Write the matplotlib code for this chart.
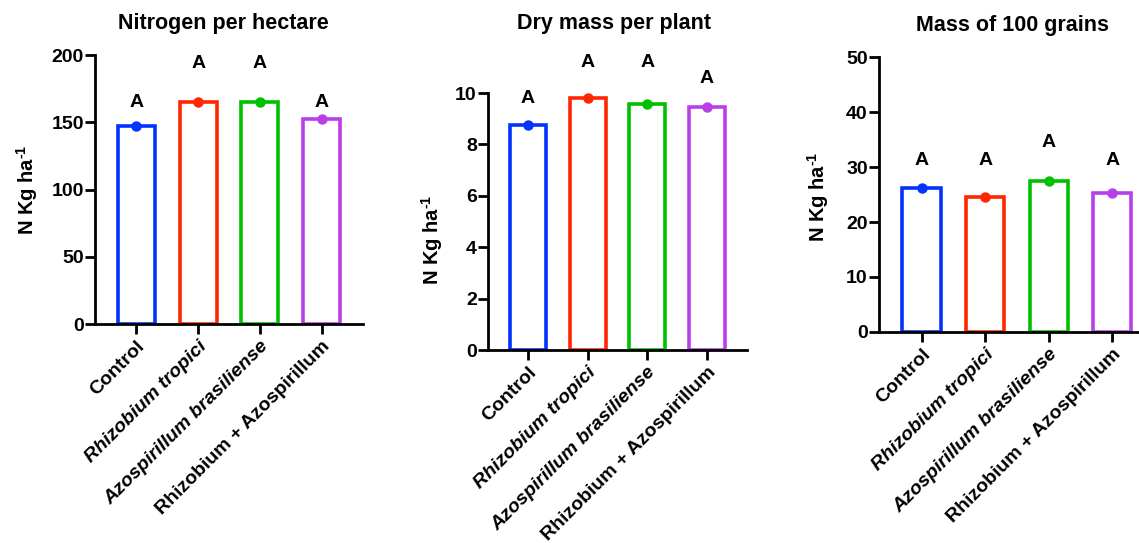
import matplotlib
matplotlib.use('Agg')
import matplotlib.pyplot as plt
import numpy as np

plt.rcParams['font.family'] = ['Liberation Sans', 'DejaVu Sans']
plt.rcParams['font.weight'] = 'bold'
plt.rcParams['mathtext.fontset'] = 'custom'
plt.rcParams['mathtext.rm'] = 'Liberation Sans:bold'
plt.rcParams['mathtext.bf'] = 'Liberation Sans:bold'

# data
categories = ['Control', 'Rhizobium tropici', 'Azospirillum brasiliense', 'Rhizobium + Azospirillum']
italic_labels = [False, True, True, False]
colors = ['#0433FF', '#FF2600', '#00C000', '#B940E8']

titles = ['Nitrogen per hectare', 'Dry mass per plant', 'Mass of 100 grains']
ylabel = r'N Kg ha$^{\text{-1}}$'

nitrogen = [147, 165, 165, 152.5]
dry_mass = [8.75, 9.82, 9.56, 9.47]
grains = [26.1, 24.5, 27.4, 25.3]

# letter labels and their heights
letters = ['A', 'A', 'A', 'A']
nitrogen_letter_y = [165, 194, 194, 165]
dry_mass_letter_y = [9.8, 11.2, 11.2, 10.55]
grains_letter_y = [31.2, 31.2, 34.4, 31.2]

nitrogen_ticks = [0, 50, 100, 150, 200]
dry_mass_ticks = [0, 2, 4, 6, 8, 10]
grains_ticks = [0, 10, 20, 30, 40, 50]

W, H = 1139, 543

panels = [
    # values, letter y, ticks, axes rect, ylabel pos, title pos (px)
    (nitrogen, nitrogen_letter_y, nitrogen_ticks, [0.0834, 0.4033, 0.2353, 0.4954], (-0.255, 0.50), (223, 24)),
    (dry_mass, dry_mass_letter_y, dry_mass_ticks, [0.4284, 0.3554, 0.2274, 0.4733], (-0.216, 0.43), (614, 23)),
    (grains, grains_letter_y, grains_ticks, [0.7717, 0.3886, 0.2423, 0.5064], (-0.221, 0.49), (1012, 25)),
]

fig = plt.figure(figsize=(W / 100, H / 100), dpi=100)

for title, (vals, letter_y, ticks, rect, lab_pos, t_pos) in zip(titles, panels):
    ax = fig.add_axes(rect)
    x = np.arange(len(categories))
    ax.bar(x, vals, width=0.6, fill=False, edgecolor=colors, linewidth=2.6, zorder=2)
    for xi, v, c in zip(x, vals, colors):
        ax.plot(xi, v, 'o', color=c, markersize=6.5, zorder=3, clip_on=False)
    for xi, ly, t in zip(x, letter_y, letters):
        ax.text(xi, ly, t, ha='center', va='center', fontsize=14, fontweight='bold')

    ax.set_xlim(-0.67, len(categories) - 0.33)
    ax.set_ylim(ticks[0], ticks[-1])
    ax.set_yticks(ticks)
    ax.set_xticks(x)
    ax.set_xticklabels(categories, rotation=45, ha='right', rotation_mode='anchor',
                       fontsize=14, fontweight='bold')
    for lbl, it in zip(ax.get_xticklabels(), italic_labels):
        if it:
            lbl.set_style('italic')
    ax.tick_params(axis='y', labelsize=14, width=2, length=7, pad=1)
    ax.tick_params(axis='x', width=2, length=7, pad=3)
    for lbl in ax.get_yticklabels():
        lbl.set_fontweight('bold')

    for s in ['top', 'right']:
        ax.spines[s].set_visible(False)
    for s in ['left', 'bottom']:
        ax.spines[s].set_linewidth(2)

    fig.text(t_pos[0] / W, 1 - t_pos[1] / H, title, ha='center', va='center',
             fontsize=15.5, fontweight='bold')
    ax.text(lab_pos[0], lab_pos[1], ylabel, transform=ax.transAxes, rotation=90,
            ha='center', va='center', fontsize=14.5, fontweight='bold')

plt.savefig('out.png', dpi=100)
